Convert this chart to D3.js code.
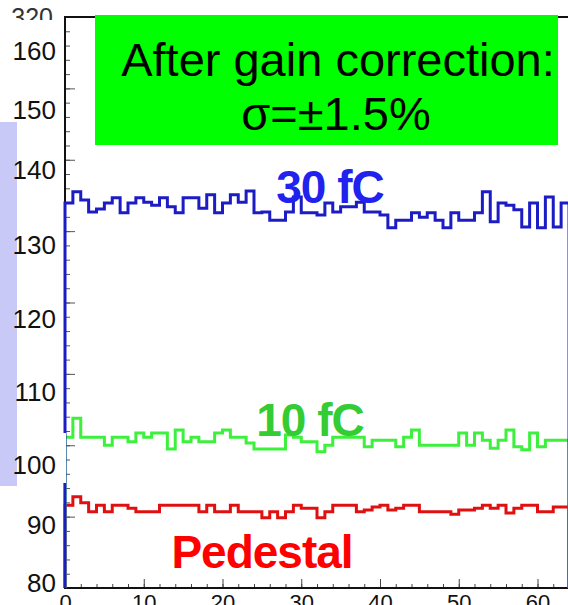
<!DOCTYPE html>
<html>
<head>
<meta charset="utf-8">
<script src="https://cdn.jsdelivr.net/npm/d3@7"></script>
<style>
	body { margin: 0; background: #fff; }
	svg { display: block; font-family: "Liberation Sans", Arial, sans-serif; }
</style>
</head>
<body>
<div id="graph"></div>
<script>
// number of channels along x (bin edges run 0..64)
const NUM_BINS = 64;

// x tick labels
const x_ticks = [0, 10, 20, 30, 40, 50, 60];

// y tick labels that sit next to the axis
const y_labels = [80, 90, 100, 110, 120, 130, 140, 150, 160];

// one value per channel
const blue_30fC = [
	135.6, 137.1, 136.0, 134.4, 134.8, 135.6, 136.3, 134.3, 135.6, 136.3,
	135.7, 135.3, 136.3, 135.1, 134.3, 136.3, 136.3, 134.9, 136.7, 134.3,
	135.6, 136.7, 135.7, 137.2, 134.3, 134.4, 133.3, 133.3, 134.4, 136.4,
	134.3, 134.3, 134.0, 135.6, 134.4, 135.1, 135.1, 135.7, 134.4, 134.4,
	134.0, 132.3, 133.3, 133.3, 134.3, 133.7, 134.3, 133.3, 132.3, 134.3,
	133.3, 133.3, 134.3, 137.1, 133.1, 135.6, 135.3, 134.7, 132.4, 135.6,
	132.3, 136.4, 132.4, 135.6
];
const green_10fC = [
	103.8, 106.4, 103.8, 103.8, 103.8, 102.7, 103.8, 103.8, 103.2, 104.4,
	103.8, 104.4, 104.4, 102.2, 104.8, 103.2, 103.8, 103.2, 103.2, 104.4,
	104.8, 103.8, 103.8, 103.0, 102.2, 102.2, 102.2, 102.2, 104.1, 103.8,
	103.2, 103.2, 101.8, 102.7, 103.8, 103.8, 103.8, 103.8, 102.5, 103.4,
	103.4, 103.4, 102.5, 103.8, 104.8, 102.7, 102.7, 102.7, 102.7, 102.7,
	104.4, 102.7, 104.4, 103.4, 102.3, 103.4, 104.8, 102.5, 102.1, 104.4,
	102.5, 103.4, 103.4, 103.4
];
const red_pedestal = [
	93.3, 94.7, 93.7, 92.2, 93.3, 92.2, 93.3, 93.3, 92.8, 92.2,
	92.2, 92.2, 93.3, 93.3, 93.3, 93.3, 93.3, 92.2, 93.3, 92.2,
	92.2, 93.3, 92.2, 92.2, 92.2, 91.2, 92.2, 91.2, 92.2, 93.3,
	92.8, 92.8, 91.2, 92.2, 93.3, 93.3, 93.3, 92.2, 92.5, 93.0,
	93.3, 92.5, 92.8, 93.3, 93.3, 92.2, 92.2, 92.2, 92.2, 91.8,
	92.5, 92.5, 92.8, 93.3, 92.8, 93.3, 92.0, 92.8, 93.3, 93.3,
	92.2, 92.2, 93.0, 93.0
];

// the original (hidden) axis range, only its top label still shows
const raw_axis_max = 320;

// ---------------- layout ----------------
const W = 568, H = 605;
const plot = {left: 65, top: 17, right: 569, bottom: 588};
// the pasted labels are not evenly spaced, so the value scale is piecewise
const y_label_px = [583, 525, 465, 392, 319, 245, 170, 110, 51];

const svg = d3.select("#graph")
	.append("svg")
	.attr("width", W)
	.attr("height", H);

// SCALES
const x = d3.scaleLinear()
	.domain([0, NUM_BINS])
	.range([plot.left, plot.right]);

const y = d3.scaleLinear()
	.domain(y_labels)
	.range(y_label_px);

// scale of the original frame, used for the tick marks
const y_raw = d3.scaleLinear()
	.domain([0, raw_axis_max])
	.range([plot.bottom, plot.top]);

// ORIGINAL TOP LABEL (mostly covered later)
svg.append("text")
	.attr("x", 53)
	.attr("y", y_raw(raw_axis_max))
	.attr("dy", "0.35em")
	.attr("text-anchor", "end")
	.attr("font-size", 25)
	.attr("fill", "#333")
	.text(raw_axis_max);

// white sheet pasted over the old labels
svg.append("rect")
	.attr("x", 0).attr("y", 20)
	.attr("width", 61).attr("height", 570)
	.attr("fill", "#fff");

// Y TICK MARKS (minor every 8, major every 40)
const yMinor = svg.append("g")
	.attr("transform", `translate(${plot.left},0)`)
	.call(d3.axisLeft(y_raw)
		.tickValues(d3.range(0, raw_axis_max + 1, 8))
		.tickSize(-5)
		.tickFormat(""));
const yMajor = svg.append("g")
	.attr("transform", `translate(${plot.left},0)`)
	.call(d3.axisLeft(y_raw)
		.tickValues(d3.range(0, raw_axis_max + 1, 40))
		.tickSize(-10)
		.tickFormat(""));
[yMinor, yMajor].forEach(function(g) {
	g.select(".domain").remove();
	g.selectAll("line").attr("stroke", "#555");
});

// X AXIS (ticks point up into the plot)
const xMinor = svg.append("g")
	.attr("transform", `translate(0,${plot.bottom})`)
	.call(d3.axisBottom(x)
		.tickValues(d3.range(0, NUM_BINS + 1, 2))
		.tickSize(-4)
		.tickFormat(""));
xMinor.select(".domain").remove();
xMinor.selectAll("line").attr("stroke", "#444");

const xMajor = svg.append("g")
	.attr("transform", `translate(0,${plot.bottom})`)
	.call(d3.axisBottom(x)
		.tickValues(x_ticks)
		.tickSize(-9)
		.tickPadding(6));
xMajor.select(".domain").remove();
xMajor.selectAll("line").attr("stroke", "#444");
xMajor.selectAll("text")
	.attr("font-size", 22)
	.attr("font-family", "Liberation Sans, Arial, sans-serif")
	.attr("fill", "#111");

// FRAME
svg.append("path")
	.attr("d", `M${plot.right},${plot.top}H${plot.left}V${plot.bottom}H${plot.right}`)
	.attr("fill", "none")
	.attr("stroke", "#111")
	.attr("stroke-width", 2);

/**
 * draws one histogram outline, starting and ending at the frame bottom
 */
function drawHist(values, color) {
	const pts = [[x(0), plot.bottom]];
	values.forEach(function(v, i) { pts.push([x(i), y(v)]); });
	pts.push([x(NUM_BINS), y(values[values.length - 1])]);
	pts.push([x(NUM_BINS), plot.bottom]);
	svg.append("path")
		.attr("d", d3.line().curve(d3.curveStepAfter)(pts))
		.attr("fill", "none")
		.attr("stroke", color)
		.attr("stroke-width", 3);
}

drawHist(red_pedestal, "#e01010");
drawHist(green_10fC, "#3cf03c");
drawHist(blue_30fC, "#1c1cc4");

// white patch behind the "100" label
svg.append("rect")
	.attr("x", 17).attr("y", 433)
	.attr("width", 49).attr("height", 50)
	.attr("fill", "#fff");

// lavender strip with the cut-off axis title
svg.append("rect")
	.attr("x", 0).attr("y", 122)
	.attr("width", 17).attr("height", 364)
	.attr("fill", "#c9c9f7");
svg.append("defs").append("clipPath")
	.attr("id", "titleClip")
	.append("rect")
	.attr("x", 0).attr("y", 122)
	.attr("width", 17).attr("height", 364);
svg.append("text")
	.attr("clip-path", "url(#titleClip)")
	.attr("transform", "translate(1,367) rotate(-90)")
	.attr("text-anchor", "middle")
	.attr("font-size", 28)
	.attr("fill", "#111")
	.text("(ADC counts)");

// Y LABELS
const yLab = svg.append("g")
	.attr("transform", `translate(${plot.left},0)`)
	.call(d3.axisLeft(y)
		.tickValues(y_labels)
		.tickSize(0)
		.tickPadding(9));
yLab.select(".domain").remove();
yLab.selectAll("text")
	.attr("font-size", 26)
	.attr("font-family", "Liberation Sans, Arial, sans-serif")
	.attr("fill", "#111");

// GREEN NOTE BOX
svg.append("rect")
	.attr("x", 95).attr("y", 15)
	.attr("width", 463).attr("height", 130)
	.attr("fill", "#00ff00");
svg.append("text")
	.attr("x", 338).attr("y", 76)
	.attr("text-anchor", "middle")
	.attr("font-size", 47)
	.attr("fill", "#000")
	.text("After gain correction:");
svg.append("text")
	.attr("x", 336).attr("y", 130)
	.attr("text-anchor", "middle")
	.attr("font-size", 47)
	.attr("fill", "#000")
	.text("σ=±1.5%");

// SERIES LABELS
function addLabel(txt, cx, base, color) {
	svg.append("text")
		.attr("x", cx).attr("y", base)
		.attr("text-anchor", "middle")
		.attr("font-size", 46)
		.attr("font-weight", "bold")
		.attr("letter-spacing", -1)
		.attr("fill", color)
		.text(txt);
}
addLabel("30 fC", 330, 203, "#2222ee");
addLabel("10 fC", 310, 436, "#33cc33");
addLabel("Pedestal", 262, 568, "#ff0000");
</script>
</body>
</html>
